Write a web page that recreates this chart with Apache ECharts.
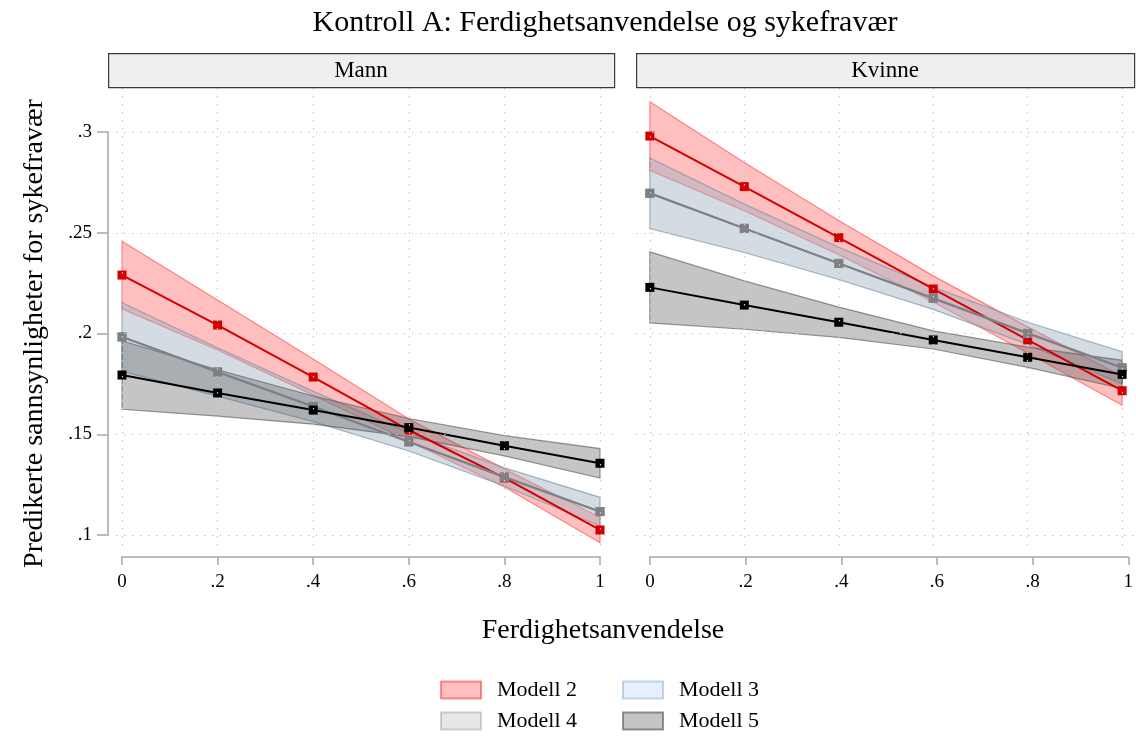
<!DOCTYPE html>
<html>
<head>
<meta charset="utf-8">
<script src="https://cdn.jsdelivr.net/npm/echarts@6/dist/echarts.min.js"></script>
<style>
  html, body { margin: 0; padding: 0; background: #fff; }
  #chart { width: 1136px; height: 736px; }
</style>
</head>
<body>
<div id="chart"></div>
<script>
// Predicted probabilities of sick leave by skill use, four models, men and women.
const xs = [0, 0.2, 0.4, 0.6, 0.8, 1];
const xTickValues = [0, 0.2, 0.4, 0.6, 0.8, 1];
const yTickValues = [0.1, 0.15, 0.2, 0.25, 0.3];
const panels = ['Mann', 'Kvinne'];
const models = ['Modell 2', 'Modell 3', 'Modell 4', 'Modell 5'];

// Mann
const mann_m2 = [0.229, 0.2042, 0.1784, 0.1521, 0.1283, 0.1025];
const mann_m2_lo = [0.2122, 0.1918, 0.1694, 0.1466, 0.1238, 0.0962];
const mann_m2_hi = [0.2458, 0.2166, 0.1874, 0.1576, 0.1328, 0.1088];
const mann_m3 = [0.1983, 0.1809, 0.1638, 0.1462, 0.1288, 0.1116];
const mann_m3_lo = [0.1813, 0.1689, 0.1563, 0.1417, 0.1243, 0.1045];
const mann_m3_hi = [0.2153, 0.1929, 0.1713, 0.1507, 0.1333, 0.1187];
const mann_m4 = [0.1983, 0.1809, 0.1638, 0.1462, 0.1288, 0.1116];
const mann_m4_lo = [0.1813, 0.1689, 0.1563, 0.1417, 0.1243, 0.1045];
const mann_m4_hi = [0.2153, 0.1929, 0.1713, 0.1507, 0.1333, 0.1187];
const mann_m5 = [0.1794, 0.1705, 0.162, 0.1533, 0.1443, 0.1356];
const mann_m5_lo = [0.1624, 0.159, 0.155, 0.1488, 0.1393, 0.1283];
const mann_m5_hi = [0.1964, 0.182, 0.169, 0.1578, 0.1493, 0.1429];

// Kvinne
const kvinne_m2 = [0.298, 0.2729, 0.2476, 0.2221, 0.1968, 0.1716];
const kvinne_m2_lo = [0.281, 0.2609, 0.2391, 0.2156, 0.1903, 0.1644];
const kvinne_m2_hi = [0.315, 0.2849, 0.2561, 0.2286, 0.2033, 0.1788];
const kvinne_m3 = [0.2696, 0.2522, 0.2348, 0.2175, 0.2001, 0.183];
const kvinne_m3_lo = [0.2521, 0.2402, 0.2268, 0.212, 0.1946, 0.175];
const kvinne_m3_hi = [0.2871, 0.2642, 0.2428, 0.223, 0.2056, 0.191];
const kvinne_m4 = [0.2696, 0.2522, 0.2348, 0.2175, 0.2001, 0.183];
const kvinne_m4_lo = [0.2521, 0.2402, 0.2268, 0.212, 0.1946, 0.175];
const kvinne_m4_hi = [0.2871, 0.2642, 0.2428, 0.223, 0.2056, 0.191];
const kvinne_m5 = [0.2229, 0.2141, 0.2056, 0.1968, 0.1882, 0.1797];
const kvinne_m5_lo = [0.2053, 0.2021, 0.1981, 0.1923, 0.1832, 0.1727];
const kvinne_m5_hi = [0.2405, 0.2261, 0.2131, 0.2013, 0.1932, 0.1867];

const SERIF = "'Liberation Serif', 'DejaVu Serif', 'Times New Roman', serif";

const styles = {
  'Modell 2': { fill: 'rgba(255,0,0,0.25)', stroke: 'rgba(255,0,0,0.42)', line: '#d20000' },
  'Modell 3': { fill: 'rgba(150,195,235,0.25)', stroke: 'rgba(120,165,210,0.45)', line: '#7a96b4' },
  'Modell 4': { fill: 'rgba(160,160,160,0.25)', stroke: 'rgba(130,130,130,0.35)', line: '#808080' },
  'Modell 5': { fill: 'rgba(95,95,95,0.36)', stroke: 'rgba(80,80,80,0.6)', line: '#000000' }
};

const panelData = [
  {
    'Modell 2': [mann_m2, mann_m2_lo, mann_m2_hi],
    'Modell 3': [mann_m3, mann_m3_lo, mann_m3_hi],
    'Modell 4': [mann_m4, mann_m4_lo, mann_m4_hi],
    'Modell 5': [mann_m5, mann_m5_lo, mann_m5_hi]
  },
  {
    'Modell 2': [kvinne_m2, kvinne_m2_lo, kvinne_m2_hi],
    'Modell 3': [kvinne_m3, kvinne_m3_lo, kvinne_m3_hi],
    'Modell 4': [kvinne_m4, kvinne_m4_lo, kvinne_m4_hi],
    'Modell 5': [kvinne_m5, kvinne_m5_lo, kvinne_m5_hi]
  }
];

// plotting range of the data grids (a little padding around 0..1 and .1..3)
const X_MIN = -0.0293, X_MAX = 1.0293;
const Y_MIN = 0.08908, Y_MAX = 0.32184;

function fmt(v) {
  const s = String(Number(v.toFixed(3)));
  return s.replace(/^0\./, '.');
}

function bandSeries(name, idx, lo, hi) {
  const st = styles[name];
  return {
    name: name,
    type: 'custom',
    xAxisIndex: idx,
    yAxisIndex: idx,
    z: 2,
    silent: true,
    itemStyle: { color: st.fill },
    data: [[0.5, 0.2]],
    renderItem: function (params, api) {
      const upper = xs.map((x, i) => api.coord([x, hi[i]]));
      const lower = xs.map((x, i) => api.coord([x, lo[i]])).reverse();
      return {
        type: 'polygon',
        shape: { points: upper.concat(lower) },
        style: { fill: st.fill, stroke: st.stroke, lineWidth: 1.2 }
      };
    }
  };
}

// point estimates: connecting line with solid square markers
function lineSeries(name, idx, vals) {
  const st = styles[name];
  return {
    name: name + ' linje',
    type: 'line',
    xAxisIndex: idx,
    yAxisIndex: idx,
    z: 3,
    silent: true,
    symbol: 'path://M0 0H10V10H0Z',
    symbolSize: 9,
    showAllSymbol: true,
    lineStyle: { color: st.line, width: 2 },
    itemStyle: { color: st.line, borderColor: st.line, borderWidth: 0 },
    emphasis: { disabled: true },
    data: xs.map((x, i) => [x, vals[i]])
  };
}

function gridLineSeries(idx) {
  const dotted = { color: '#c9c9c9', width: 1.2, type: [1.5, 6.5] };
  return {
    name: 'rutenett' + idx,
    type: 'line',
    xAxisIndex: idx,
    yAxisIndex: idx,
    z: 1,
    silent: true,
    symbol: 'none',
    lineStyle: { opacity: 0 },
    data: [[0.5, 0.2]],
    markLine: {
      silent: true,
      symbol: ['none', 'none'],
      label: { show: false },
      lineStyle: dotted,
      animation: false,
      data: yTickValues.map(v => ({ yAxis: v }))
        .concat(xTickValues.map(x => [{ coord: [x, Y_MAX] }, { coord: [x, 0.0926] }]))
    }
  };
}

const series = [];
panels.forEach((p, idx) => series.push(gridLineSeries(idx)));
panels.forEach((p, idx) => {
  models.forEach(m => {
    const d = panelData[idx][m];
    series.push(bandSeries(m, idx, d[1], d[2]));
  });
});
panels.forEach((p, idx) => {
  models.forEach(m => {
    const d = panelData[idx][m];
    series.push(lineSeries(m, idx, d[0]));
  });
});

const axisLineStyle = { color: '#a6a6a6', width: 1.5 };
const labelStyle = { fontFamily: SERIF, fontSize: 19, color: '#000' };

function xAxisFor(gridIndex, visible) {
  if (!visible) {
    return { type: 'value', gridIndex: gridIndex, min: X_MIN, max: X_MAX, show: false };
  }
  return {
    type: 'value', gridIndex: gridIndex, min: 0, max: 1, interval: 0.2,
    offset: 22,
    axisLine: { show: true, onZero: false, lineStyle: axisLineStyle },
    axisTick: { show: true, length: 8, lineStyle: axisLineStyle },
    axisLabel: Object.assign({ margin: 16, formatter: fmt }, labelStyle),
    splitLine: { show: false }
  };
}

const legends = [
  { name: 'Modell 2', left: 435, top: 674 },
  { name: 'Modell 3', left: 617, top: 674 },
  { name: 'Modell 4', left: 435, top: 705 },
  { name: 'Modell 5', left: 617, top: 705 }
].map(l => ({
  left: l.left,
  top: l.top,
  icon: 'rect',
  itemWidth: 40,
  itemHeight: 17,
  selectedMode: false,
  textStyle: { fontFamily: SERIF, fontSize: 22, color: '#000', padding: [0, 0, 0, 11] },
  data: [{
    name: l.name,
    itemStyle: { color: styles[l.name].fill, borderColor: styles[l.name].stroke, borderWidth: 2 }
  }]
}));

const option = {
  animation: false,
  backgroundColor: '#fff',
  title: [
    {
      text: 'Kontroll A: Ferdighetsanvendelse og sykefravær',
      left: 600, top: 3, textAlign: 'center',
      textStyle: { fontFamily: SERIF, fontSize: 30, fontWeight: 'normal', color: '#000' }
    },
    {
      text: 'Ferdighetsanvendelse',
      left: 598, top: 612, textAlign: 'center',
      textStyle: { fontFamily: SERIF, fontSize: 28, fontWeight: 'normal', color: '#000' }
    }
  ],
  legend: legends,
  grid: [
    { left: 108, top: 88, width: 506, height: 469 },
    { left: 636, top: 88, width: 507, height: 469 },
    { left: 122, top: 132, width: 478, height: 403 },
    { left: 650, top: 132, width: 479, height: 403 }
  ],
  xAxis: [
    xAxisFor(0, false),
    xAxisFor(1, false),
    xAxisFor(2, true),
    xAxisFor(3, true)
  ],
  yAxis: [
    { type: 'value', gridIndex: 0, min: Y_MIN, max: Y_MAX, show: false },
    { type: 'value', gridIndex: 1, min: Y_MIN, max: Y_MAX, show: false },
    {
      type: 'value', gridIndex: 2, min: 0.1, max: 0.3, interval: 0.05,
      offset: 14,
      name: 'Predikerte sannsynligheter for sykefravær',
      nameLocation: 'middle', nameRotate: 90, nameGap: 59,
      nameTextStyle: { fontFamily: SERIF, fontSize: 28, color: '#000' },
      axisLine: { show: true, onZero: false, lineStyle: axisLineStyle },
      axisTick: { show: true, length: 11, lineStyle: axisLineStyle },
      axisLabel: Object.assign({ margin: 16, formatter: fmt }, labelStyle),
      splitLine: { show: false }
    },
    { type: 'value', gridIndex: 3, min: 0.1, max: 0.3, show: false }
  ],
  graphic: [
    {
      type: 'rect', left: 108, top: 53, z: 10,
      shape: { width: 506, height: 34 },
      style: { fill: '#efefef', stroke: '#3a3a3a', lineWidth: 1.2 }
    },
    {
      type: 'text', x: 361, y: 71, z: 11,
      style: { text: panels[0], fontFamily: SERIF, fontSize: 23, fill: '#000', align: 'center', verticalAlign: 'middle' }
    },
    {
      type: 'rect', left: 636, top: 53, z: 10,
      shape: { width: 498, height: 34 },
      style: { fill: '#efefef', stroke: '#3a3a3a', lineWidth: 1.2 }
    },
    {
      type: 'text', x: 885, y: 71, z: 11,
      style: { text: panels[1], fontFamily: SERIF, fontSize: 23, fill: '#000', align: 'center', verticalAlign: 'middle' }
    }
  ],
  series: series
};

const chart = echarts.init(document.getElementById('chart'), null, { renderer: 'canvas' });
chart.setOption(option);
</script>
</body>
</html>
